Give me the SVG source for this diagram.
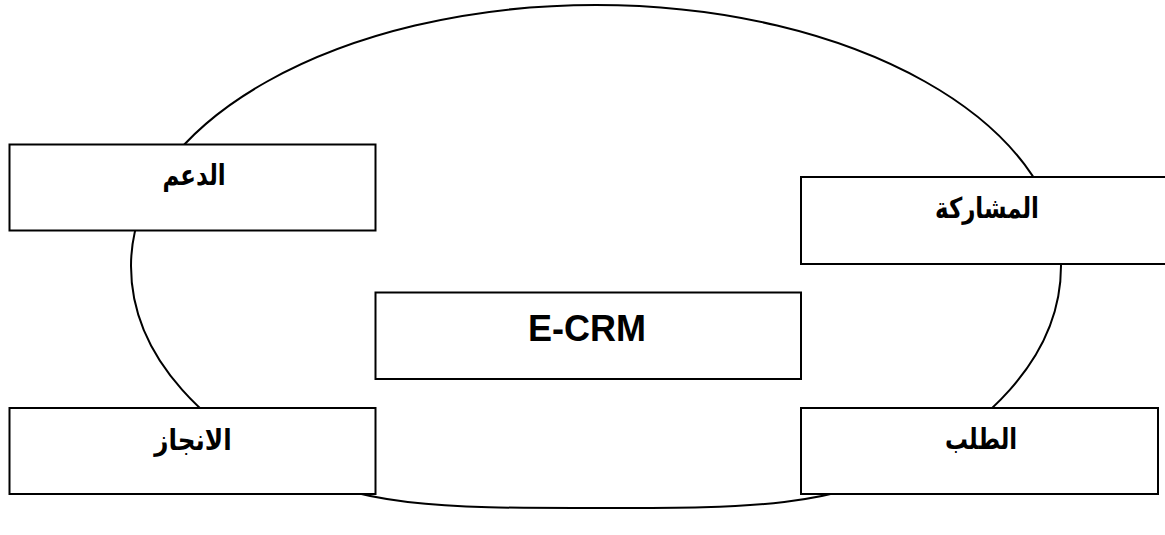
<svg xmlns="http://www.w3.org/2000/svg" width="1165" height="535" viewBox="0 0 1165 535">
  <style>
    .box { fill: #ffffff; stroke: #000000; stroke-width: 2; }
    .ring { fill: none; stroke: #000000; stroke-width: 2; }
    .label { font-family: "Liberation Sans", "DejaVu Sans", sans-serif; font-weight: bold; fill: #000000; text-anchor: middle; }
    .ar { font-size: 26px; direction: rtl; unicode-bidi: embed; }
    .en { font-size: 36px; }
  </style>
  <rect width="1165" height="535" fill="#ffffff"/>

  <!-- outer cycle: rounded loop, flatter along the bottom -->
  <g id="connectors">
    <path class="ring" d="M131,266 C131,122 339,5 596,5 C853,5 1061,122 1061,266 C1061,366 972,431 920,460 C832,509 746,508 596,508 C446,508 360,509 272,460 C220,431 131,366 131,266 Z"/>
  </g>

  <g id="node-support">
    <rect class="box" x="9.5" y="144.5" width="366" height="86"/>
    <text class="label ar" transform="translate(194,185) scale(0.88,1.1)">الدعم</text>
  </g>

  <g id="node-participation">
    <rect class="box" x="801" y="177" width="372" height="87"/>
    <text class="label ar" transform="translate(987,218) scale(0.88,1.1)">المشاركة</text>
  </g>

  <g id="node-ecrm">
    <rect class="box" x="375.5" y="292.5" width="425.5" height="86.5"/>
    <text class="label en" x="587" y="341">E-CRM</text>
  </g>

  <g id="node-achievement">
    <rect class="box" x="9.5" y="408" width="366" height="86"/>
    <text class="label ar" transform="translate(193,450) scale(0.95,1.1)">الانجاز</text>
  </g>

  <g id="node-request">
    <rect class="box" x="801" y="408" width="357" height="86"/>
    <text class="label ar" transform="translate(981,449) scale(0.88,1.1)">الطلب</text>
  </g>
</svg>
